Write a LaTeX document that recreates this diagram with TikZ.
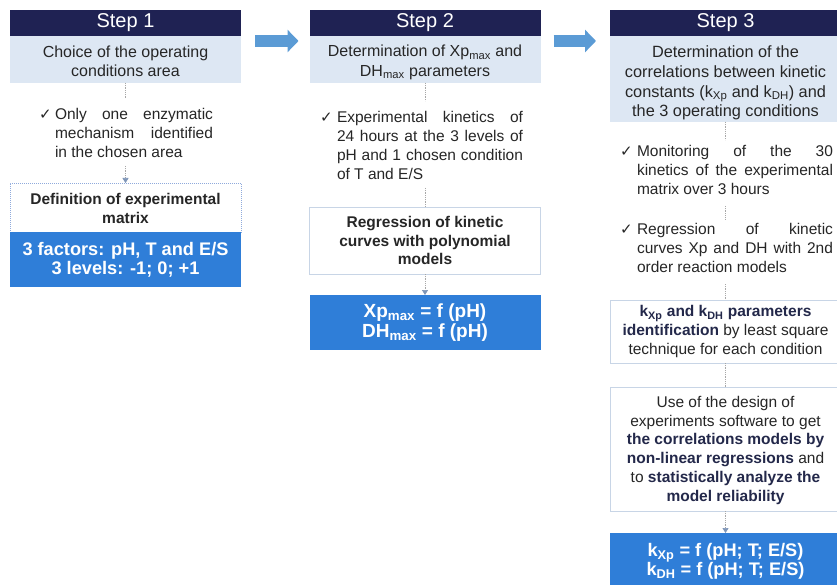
\documentclass[tikz,border=0pt]{standalone}
\usepackage{fontspec}
\setmainfont{Liberation Sans}
\newfontfamily\symfont{DejaVu Sans}
\usetikzlibrary{arrows.meta}
\definecolor{navy}{HTML}{1F2253}
\definecolor{lightblue}{HTML}{DDE7F3}
\definecolor{mainblue}{HTML}{2F7ED8}
\definecolor{arrowblue}{HTML}{5B9BD5}
\definecolor{bordercol}{HTML}{C8D5E6}
\definecolor{dotborder}{HTML}{8FAADC}
\definecolor{dotcol}{HTML}{A8A8A8}
\definecolor{tipcol}{HTML}{7F96B8}
\definecolor{txt}{HTML}{262626}
\definecolor{boldnavy}{HTML}{23284A}
\newcommand\fHead{\fontsize{20}{24}\selectfont}
\newcommand\fBody{\fontsize{15.5}{18.8}\selectfont}
\newcommand\fLight{\fontsize{16}{19.4}\selectfont}
\newcommand\fBlue{\fontsize{18.2}{19}\selectfont\bfseries}
\newcommand\hb[1]{{\bfseries\color{boldnavy}#1}}
\newcommand\lift[1]{\rule{0pt}{#1}}
\begin{document}
\begin{tikzpicture}[x=1pt,y=-1pt,
  every node/.style={inner sep=0pt, outer sep=0pt, text=txt},
  hdr/.style={fill=navy, text=white, font=\fHead, minimum width=231pt, minimum height=26pt},
  lbox/.style={fill=lightblue, font=\fLight, align=center, minimum width=231pt},
  wbox/.style={draw=bordercol, line width=0.8pt, fill=white, align=center, minimum width=231pt},
  dbox/.style={draw=dotborder, line width=0.8pt, dash pattern=on 1pt off 1pt, fill=white, align=center, minimum width=231pt},
  bbox/.style={fill=mainblue, text=white, font=\fBlue, align=center, minimum width=231pt},
  chk/.style={font=\symfont\fontsize{15}{16}\selectfont, anchor=base west},
  ctext/.style={font=\fBody, align=justify, anchor=base west},
  dotline/.style={draw=dotcol, line width=0.7pt, dash pattern=on 0.8pt off 1pt},
  dotarrow/.style={dotline, -{Triangle[length=5pt,width=6pt,color=tipcol]}},
  bigarrow/.style={draw=arrowblue, line width=12pt, -{Triangle[length=11pt,width=22pt]}}
]
\clip (0,0) rectangle (837,585);
\fill[white] (0,0) rectangle (837,585);

% ---------- Step 1 ----------
\node[hdr] (h1) at (125.5,23) {Step 1};
\node[lbox, minimum height=47pt] (l1) at (125.5,59.5) {\lift{14.6pt}Choice of the operating\\conditions area};
\node[chk] (k1) at (39,120) {✓};
\node[ctext, text width=158pt] (t1) at (55,120) {Only one enzymatic\linebreak mechanism identified\linebreak in the chosen area};
\node[dbox, font=\fBody\bfseries, minimum height=49pt] (w1) at (125.5,207.5) {\lift{13.5pt}Definition of experimental\\matrix};
\node[bbox, minimum height=55pt] (b1) at (125.5,259.5) {3 factors: pH, T and E/S\\3 levels: -1; 0; +1};
\coordinate (a1) at (125.5,99);
\coordinate (a2) at (125.5,166);
\draw[dotline] (l1.south) -- (a1);
\draw[dotarrow] (a2) -- (w1.north);

% ---------- Step 2 ----------
\node[hdr] (h2) at (425,23) {Step 2};
\node[lbox, minimum height=47pt] (l2) at (425,59.5) {\lift{17pt}Determination of Xp\textsubscript{max} and\\DH\textsubscript{max} parameters};
\node[chk] (k2) at (320,123) {✓};
\node[ctext, text width=186pt] (t2) at (337,123) {Experimental kinetics of\linebreak 24 hours at the 3 levels of\linebreak pH and 1 chosen condition\linebreak of T and E/S};
\node[wbox, font=\fBody\bfseries, minimum height=67pt] (r2) at (425,240.5) {Regression of kinetic\\curves with polynomial\\models};
\node[bbox, font=\fontsize{19}{20}\selectfont\bfseries, minimum height=55pt] (b2) at (425,322.5) {Xp\textsubscript{max} = f (pH)\\DH\textsubscript{max} = f (pH)};
\coordinate (a3) at (425,101);
\coordinate (a4) at (425,188);
\draw[dotline] (l2.south) -- (a3);
\draw[dotline] (a4) -- (r2.north);
\draw[dotarrow] (r2.south) -- (b2.north);

% ---------- Step 3 ----------
\node[hdr] (h3) at (725.5,23) {Step 3};
\node[lbox, font=\fontsize{16.3}{19.6}\selectfont, minimum height=86pt] (l3) at (725.5,79) {\lift{20pt}Determination of the\\correlations between kinetic\\constants (k\textsubscript{Xp} and k\textsubscript{DH}) and\\the 3 operating conditions};
\node[chk] (k3) at (620,157) {✓};
\node[ctext, text width=196pt] (t3) at (637,157) {Monitoring of the 30\linebreak kinetics of the experimental\linebreak matrix over 3 hours};
\node[chk] (k4) at (620,235) {✓};
\node[ctext, text width=196pt] (t4) at (637,235) {Regression of kinetic\linebreak curves Xp and DH with 2nd\linebreak order reaction models};
\node[wbox, font=\fBody, minimum height=63pt] (p3) at (725.5,331.5) {\hb{k\textsubscript{Xp} and k\textsubscript{DH} parameters}\\\hb{identification} by least square\\technique for each condition};
\node[wbox, font=\fBody, minimum height=124pt] (u3) at (725.5,449) {\lift{14pt}Use of the design of\\experiments software to get\\\hb{the correlations models by}\\\hb{non-linear regressions} and\\to \hb{statistically analyze the}\\\hb{model reliability}};
\node[bbox, minimum height=57pt] (b3) at (725.5,561.5) {k\textsubscript{Xp} = f (pH; T; E/S)\\k\textsubscript{DH} = f (pH; T; E/S)};
\coordinate (a5) at (725.5,140);
\coordinate (a6) at (725.5,206);
\coordinate (a7) at (725.5,220);
\coordinate (a8) at (725.5,284);
\draw[dotline] (l3.south) -- (a5);
\draw[dotline] (a6) -- (a7);
\draw[dotline] (a8) -- (p3.north);
\draw[dotline] (p3.south) -- (u3.north);
\draw[dotarrow] (u3.south) -- (b3.north);

% ---------- big arrows ----------
\draw[bigarrow, shorten <=14pt, shorten >=11pt] ([yshift=-5pt]l1.north east) -- ([yshift=-5pt]l2.north west);
\draw[bigarrow, shorten <=13pt, shorten >=14pt] ([yshift=-5pt]l2.north east) -- ([yshift=-5pt]l3.north west);
\end{tikzpicture}
\end{document}
